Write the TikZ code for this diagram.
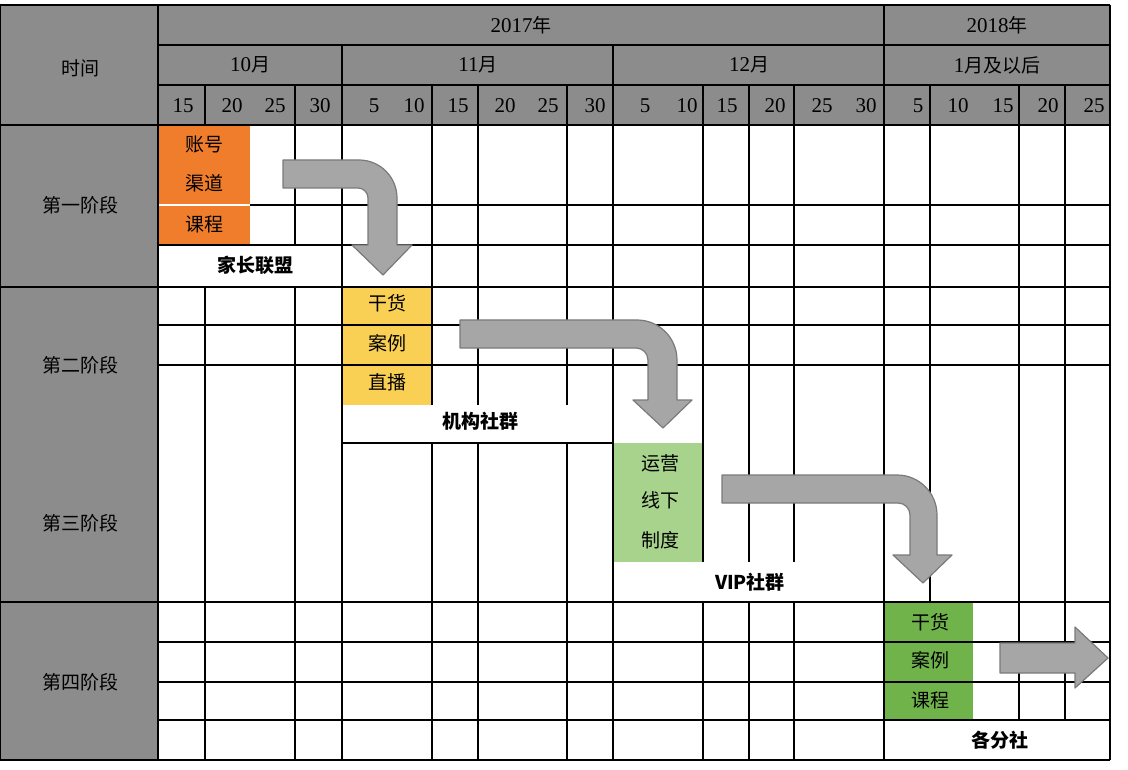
\documentclass[tikz,border=0pt]{standalone}
\usepackage{fontspec}
\setmainfont{Noto Sans CJK SC}
\newfontfamily\numf{Liberation Serif}
\definecolor{hdr}{HTML}{8C8C8C}
\definecolor{org}{HTML}{EF7D2C}
\definecolor{yel}{HTML}{FAD054}
\definecolor{lgr}{HTML}{A8D38D}
\definecolor{dgr}{HTML}{70B34A}
\definecolor{arf}{HTML}{A6A6A6}
\definecolor{ard}{HTML}{7A7A7A}
\begin{document}
\begin{tikzpicture}[x=1pt,y=-1pt,
  grid/.style={line width=2.4pt,black},
  garrow/.style={fill=arf,draw=ard,line width=1.2pt,line join=round},
  lbl/.style={font=\fontsize{19}{19}\selectfont,inner sep=0pt},
  blbl/.style={font=\fontsize{19}{19}\selectfont\bfseries,inner sep=0pt},
  num/.style={font=\fontsize{21}{21}\selectfont\numf,inner sep=0pt}]
\useasboundingbox (0,0) rectangle (1128,770);
\fill[white] (0,0) rectangle (1128,770);
% grey areas
\fill[hdr] (0,5) rectangle (1110,125);
\fill[hdr] (0,125) rectangle (158,760);
% coloured cells
\fill[org] (158,125) rectangle (250,245);
\fill[yel] (342,287) rectangle (432,405);
\fill[lgr] (613,443) rectangle (703,562);
\fill[dgr] (884,602) rectangle (973,720);
% header lines
\draw[grid] (0,5) -- (1110,5);
\draw[grid] (158,45) -- (1110,45);
\draw[grid] (158,85) -- (1110,85);
\draw[grid] (0,125) -- (1110,125);
\draw[grid] (884,5) -- (884,125);
\foreach \x in {342,613} \draw[grid] (\x,45) -- (\x,125);
\foreach \x in {205,295,432,478,567,703,749,794,930,1019,1065} \draw[grid] (\x,85) -- (\x,125);
% body horizontals
\draw[white,line width=2pt] (158,205) -- (250,205);
\draw[grid] (250,205) -- (1110,205);
\draw[grid] (158,245) -- (1110,245);
\draw[grid] (0,287) -- (1110,287);
\foreach \y in {325,365} \draw[grid] (158,\y) -- (1110,\y);
\draw[grid] (342,443) -- (613,443);
\draw[grid] (0,602) -- (1110,602);
\foreach \y in {642,682,720} \draw[grid] (158,\y) -- (1110,\y);
\draw[grid] (0,760) -- (1110,760);
% body verticals
\draw[grid] (0,5) -- (0,760);
\draw[grid] (158,5) -- (158,760);
\draw[grid] (1110,5) -- (1110,760);
\draw[grid] (205,287) -- (205,760);
\draw[grid] (295,125) -- (295,245) (295,287) -- (295,760);
\draw[grid] (342,125) -- (342,760);
\foreach \x in {432,478,567} \draw[grid] (\x,125) -- (\x,405) (\x,443) -- (\x,760);
\draw[grid] (613,125) -- (613,760);
\foreach \x in {703,749,794} \draw[grid] (\x,125) -- (\x,562) (\x,602) -- (\x,760);
\draw[grid] (884,125) -- (884,760);
\draw[grid] (930,125) -- (930,602);
\foreach \x in {1019,1065} \draw[grid] (\x,125) -- (\x,720);
% header texts
\node[lbl] (t0) at (80,68) {时间};
\node[lbl] (y17) at (521,25) {{\numf\fontsize{21}{21}\selectfont 2017}年};
\node[lbl] (y18) at (997,25) {{\numf\fontsize{21}{21}\selectfont 2018}年};
\node[lbl] (m10) at (250,65) {{\numf\fontsize{21}{21}\selectfont 10}月};
\node[lbl] (m11) at (478,65) {{\numf\fontsize{21}{21}\selectfont 11}月};
\node[lbl] (m12) at (749,65) {{\numf\fontsize{21}{21}\selectfont 12}月};
\node[lbl] (m1) at (997,65) {{\numf\fontsize{21}{21}\selectfont 1}月及以后};
\foreach \x/\t [count=\i] in {183/15,232/20,275/25,320/30,374/5,414/10,458/15,505/20,548/25,595/30,645/5,687/10,727/15,775/20,822/25,866/30,918/5,958/10,1003/15,1048/20,1094/25}
  \node[num] (d\i) at (\x,106) {\t};
% stage labels
\node[lbl] (s1) at (80,205) {第一阶段};
\node[lbl] (s2) at (80,365) {第二阶段};
\node[lbl] (s3) at (80,523) {第三阶段};
\node[lbl] (s4) at (80,682) {第四阶段};
% cell texts
\node[lbl] (a1) at (204,145) {账号};
\node[lbl] (a2) at (204,183) {渠道};
\node[lbl] (a3) at (204,224) {课程};
\node[blbl] (a4) at (255,265) {家长联盟};
\node[lbl] (b1) at (387,303) {干货};
\node[lbl] (b2) at (387,343) {案例};
\node[lbl] (b3) at (387,382) {直播};
\node[blbl] (b4) at (480,421) {机构社群};
\node[lbl] (c1) at (660,463) {运营};
\node[lbl] (c2) at (660,500) {线下};
\node[lbl] (c3) at (660,540) {制度};
\node[blbl] (c4) at (750,582) {VIP社群};
\node[lbl] (e1) at (930,622) {干货};
\node[lbl] (e2) at (930,660) {案例};
\node[lbl] (e3) at (930,700) {课程};
\node[blbl] (e4) at (1000,740) {各分社};
% arrows
\draw[garrow] (283,160) [rounded corners=38pt] -- (397,160) [sharp corners] -- (397,245) -- (412,245) -- (383,275) -- (352,245) -- (368,245) [rounded corners=10pt] -- (368,188) [sharp corners] -- (283,188) -- cycle;
\draw[garrow] (460,320) [rounded corners=40pt] -- (677,320) [sharp corners] -- (677,400) -- (692,400) -- (663,428) -- (633,400) -- (648,400) [rounded corners=12pt] -- (648,348) [sharp corners] -- (460,348) -- cycle;
\draw[garrow] (722,475) [rounded corners=40pt] -- (937,475) [sharp corners] -- (937,555) -- (952,555) -- (923,583) -- (893,555) -- (910,555) [rounded corners=12pt] -- (910,503) [sharp corners] -- (722,503) -- cycle;
\draw[garrow] (1000,643) -- (1075,643) -- (1075,627) -- (1108,658) -- (1075,688) -- (1075,673) -- (1000,673) -- cycle;
\end{tikzpicture}
\end{document}
